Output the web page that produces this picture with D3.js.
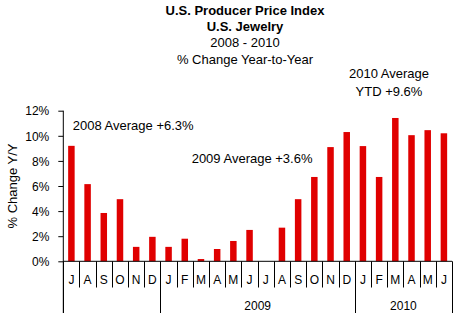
<!DOCTYPE html>
<html><head><meta charset="utf-8">
<script src="https://cdn.jsdelivr.net/npm/d3@7"></script>
<style>body{margin:0;background:#fff}svg{display:block}text{font-family:"Liberation Sans",Arial,sans-serif;fill:#000}</style>
</head><body><svg id="c" width="458" height="321"></svg>
<script>
const months = ["J","A","S","O","N","D","J","F","M","A","M","J","J","A","S","O","N","D","J","F","M","A","M","J"];
const values = [9.2,6.15,3.85,4.95,1.15,1.95,1.15,1.8,0.18,0.98,1.62,2.5,null,2.68,4.95,6.72,9.1,10.3,9.18,6.72,11.42,10.05,10.45,10.2];
const years = [{label:"",start:0,end:6},{label:"2009",start:6,end:18},{label:"2010",start:18,end:24}];
const yTicks = [0,2,4,6,8,10,12];
const titles = [{t:"U.S. Producer Price Index",b:true},{t:"U.S. Jewelry",b:true},{t:"2008 - 2010",b:false},{t:"% Change Year-to-Year",b:false}];
const notes = [{t:"2008 Average +6.3%",i:0.03,v:10.5,a:"start"},{t:"2009 Average +3.6%",i:7.37,v:7.85,a:"start"}];

const svg = d3.select("#c");
const L=63.3, R=452, T=110.7, B=261.3;
const step = (R-L)/months.length;
const y = d3.scaleLinear().domain([0,12]).range([B,T]);

// titles
titles.forEach((d,i)=>{
  svg.append("text").attr("x",245).attr("y",15+i*16.2).attr("text-anchor","middle")
    .style("font-size","13px").style("font-weight",d.b?"bold":"normal").text(d.t);
});
svg.append("text").attr("x",389).attr("y",78).attr("text-anchor","middle").style("font-size","13px").text("2010 Average");
svg.append("text").attr("x",389).attr("y",95.5).attr("text-anchor","middle").style("font-size","13px").text("YTD +9.6%");

// bars
svg.append("g").selectAll("rect").data(values.map((v,i)=>({v,i})).filter(d=>d.v!=null))
  .enter().append("rect")
  .attr("x",d=>L+step*d.i+step/2-3.25).attr("width",6.5)
  .attr("y",d=>y(d.v)).attr("height",d=>B-y(d.v)).attr("fill","#e00000");

// y axis
const ya = svg.append("g").attr("transform",`translate(${L},0)`)
  .call(d3.axisLeft(y).tickValues(yTicks).tickFormat(d=>d+"%").tickSize(5).tickPadding(9));
ya.select(".domain").remove();
ya.selectAll("line").attr("stroke","#000");
ya.selectAll("text").style("font-size","12px").style("font-family","'Liberation Sans',Arial,sans-serif").attr("dy","0.35em");
svg.append("line").attr("x1",L).attr("x2",L).attr("y1",T).attr("y2",313).attr("stroke","#000");
svg.append("line").attr("x1",L).attr("x2",R).attr("y1",B).attr("y2",B).attr("stroke","#000");

// month separators and labels
const bounds = d3.range(months.length+1);
svg.append("g").selectAll("line").data(bounds).enter().append("line")
  .attr("x1",i=>Math.round(L+step*i)+0.5).attr("x2",i=>Math.round(L+step*i)+0.5)
  .attr("y1",B).attr("y2",i=>years.some(yr=>yr.start===i||yr.end===i)?313:287.5)
  .attr("stroke","#000");
svg.append("g").selectAll("text").data(months).enter().append("text")
  .attr("x",(d,i)=>L+step*i+step/2).attr("y",283.5).attr("text-anchor","middle")
  .style("font-size","12px").text(d=>d);
svg.append("g").selectAll("text").data(years).enter().append("text")
  .attr("x",d=>L+step*(d.start+d.end)/2).attr("y",309.5).attr("text-anchor","middle")
  .style("font-size","12px").text(d=>d.label);

// notes
notes.forEach(n=>{
  svg.append("text").attr("x",L+step*n.i+9).attr("y",y(n.v)).attr("text-anchor",n.a).style("font-size","13px").text(n.t);
});

// y axis title
svg.append("text").attr("transform",`translate(17,186) rotate(-90)`).attr("text-anchor","middle")
  .style("font-size","13px").text("% Change Y/Y");
</script></body></html>
